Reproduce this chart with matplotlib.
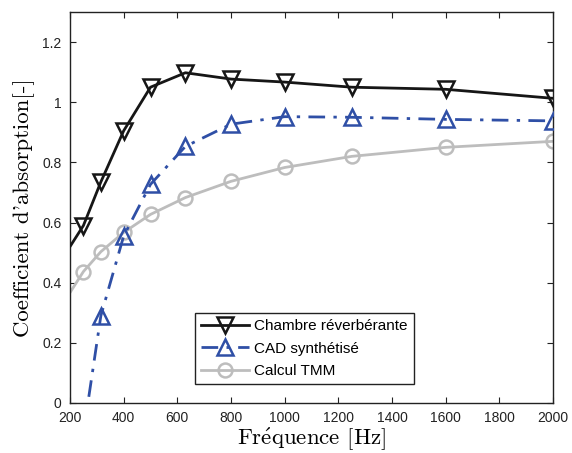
import numpy as np
import matplotlib
matplotlib.use("Agg")
import matplotlib.pyplot as plt
from matplotlib.ticker import FuncFormatter

# third-octave bands (Hz); 200 Hz only carries the line start, no marker
freq = [200, 250, 315, 400, 500, 630, 800, 1000, 1250, 1600, 2000]
chambre = [0.52, 0.59, 0.735, 0.905, 1.05, 1.098, 1.077, 1.067, 1.05, 1.043, 1.013]
freq_cad = [250, 315, 400, 500, 630, 800, 1000, 1250, 1600, 2000]
cad = [-0.10, 0.29, 0.555, 0.727, 0.853, 0.927, 0.952, 0.95, 0.943, 0.938]
tmm = [0.367, 0.437, 0.503, 0.567, 0.627, 0.683, 0.737, 0.783, 0.82, 0.85, 0.87]

labels = ["Chambre réverbérante", "CAD synthétisé", "Calcul TMM"]
xticks = [200, 400, 600, 800, 1000, 1200, 1400, 1600, 1800, 2000]
yticks = [0, 0.2, 0.4, 0.6, 0.8, 1.0, 1.2]

plt.rcParams["font.family"] = ["Liberation Sans", "DejaVu Sans"]
plt.rcParams["mathtext.fontset"] = "cm"

fig = plt.figure(figsize=(5.72, 4.53), dpi=100)
ax = fig.add_axes([70/572, 50/453, 483/572, 391/453])

blk = "#161616"
blu = "#2f4fa6"
gry = "#bdbdbd"

ax.plot(freq, tmm, color=gry, lw=2, marker="o", ms=10, mfc="none",
        mec=gry, mew=1.8, markevery=list(range(1, len(freq))), label=labels[2], zorder=2)
ax.plot(freq_cad, cad, color=blu, lw=2, dashes=(6, 3, 1.2, 3), marker="^", ms=11,
        mfc="none", mec=blu, mew=1.8, label=labels[1], zorder=3)
ax.plot(freq, chambre, color=blk, lw=2, marker="v", ms=11, mfc="none",
        mec=blk, mew=1.8, markevery=list(range(1, len(freq))), label=labels[0], zorder=4)

ax.set_xlim(200, 2000)
ax.set_ylim(0, 1.3)
ax.set_xticks(xticks)
ax.set_yticks(yticks)
ax.yaxis.set_major_formatter(FuncFormatter(lambda v, p: "%g" % v))
ax.tick_params(direction="in", top=True, right=True, length=4, width=0.8,
               labelsize=10, pad=6, colors="#222222")
for s in ax.spines.values():
    s.set_linewidth(1.0)
    s.set_color("#222222")

ax.set_xlabel(r"Fr$\mathrm{\acute{e}}$quence [Hz]", family="cmr10", fontsize=16.5, labelpad=0)
ax.set_ylabel("Coefficient d'absorption[-]", family="cmr10", fontsize=16.5, labelpad=5)

h, l = ax.get_legend_handles_labels()
leg = ax.legend(h[::-1], l[::-1], loc="upper left", bbox_to_anchor=(0.259, 0.230),
                borderaxespad=0, fancybox=False, framealpha=1, edgecolor="#222222",
                fontsize=11, handlelength=3.1, handletextpad=0.35, labelspacing=0.55,
                borderpad=0.4)
leg.get_frame().set_linewidth(1.0)

fig.savefig("out.png", dpi=100)
